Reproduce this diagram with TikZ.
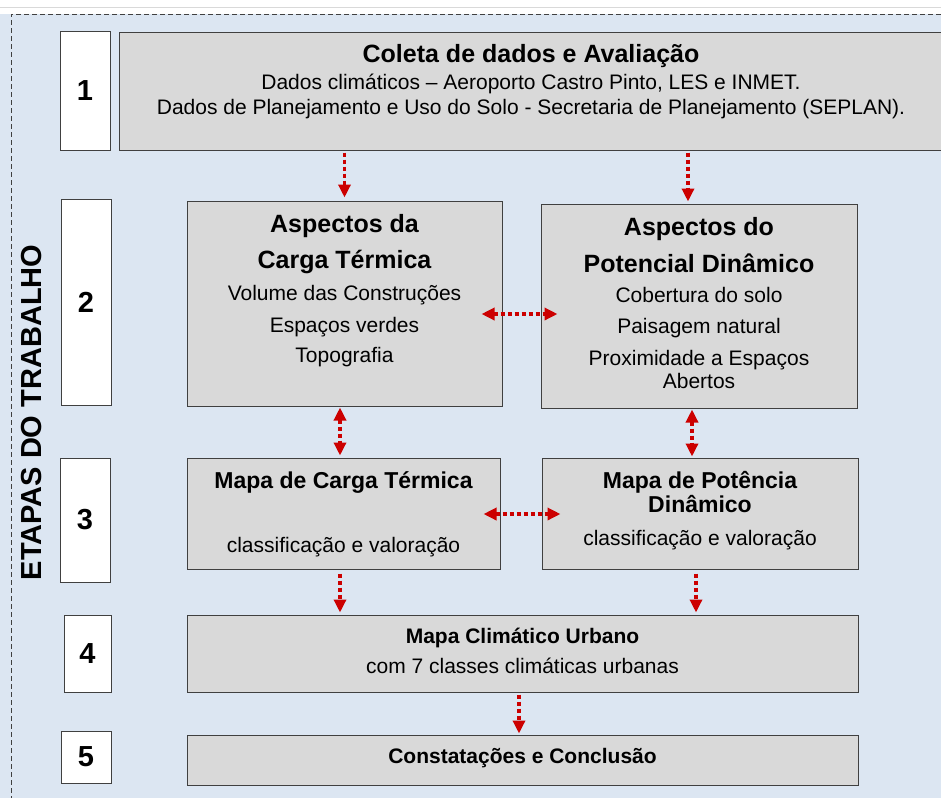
\documentclass[tikz,border=0pt]{standalone}
\usepackage{fontspec}
\setmainfont{Liberation Sans}
\usetikzlibrary{calc,positioning,arrows.meta}
\definecolor{fundo}{RGB}{220,230,242}
\definecolor{cinza}{RGB}{217,217,217}
\definecolor{borda}{RGB}{64,64,64}
\definecolor{vermelho}{RGB}{204,0,0}
\tikzset{
  caixa/.style={draw=borda, fill=cinza, line width=1pt, inner sep=0pt},
  etapa/.style={draw=borda, fill=white, line width=1pt, inner sep=0pt, font=\bfseries\fontsize{29}{34}\selectfont},
  titulo/.style={anchor=base, inner sep=0pt, font=\bfseries\fontsize{25}{30}\selectfont},
  subtitulo/.style={anchor=base, inner sep=0pt, font=\bfseries\fontsize{23}{27}\selectfont},
  rotulo/.style={anchor=base, inner sep=0pt, font=\bfseries\fontsize{21}{25}\selectfont},
  texto/.style={anchor=base, inner sep=0pt, font=\fontsize{21}{25}\selectfont},
  seta/.style={vermelho, line width=3.5pt, dash pattern=on 4pt off 3pt, -{Triangle[length=13pt,width=12pt]}},
  setadupla/.style={seta, {Triangle[length=13pt,width=12pt]}-{Triangle[length=13pt,width=12pt]}},
}
\begin{document}
\begin{tikzpicture}[x=1pt, y=-1pt]
      \useasboundingbox (0,0) rectangle (941,798);
      \fill[white] (0,0) rectangle (941,798);
      \draw[black!15] (0,7) -- (941,7);
      \fill[fundo] (0,14) rectangle (941,798);
      \draw[borda, line width=0.8pt, dash pattern=on 5pt off 3pt] (941,14) -- (11,14) -- (11,798);
      \node[rotate=90, inner sep=0pt, font=\bfseries\fontsize{29}{34}\selectfont] (T) at (32,412.5) {ETAPAS DO TRABALHO};
      % etapas
      \node[etapa, minimum width=50pt, minimum height=119pt] (n1) at (85,90.5) {1};
      \node[etapa, minimum width=50pt, minimum height=206pt] (n2) at (86,302) {2};
      \node[etapa, minimum width=50pt, minimum height=124pt] (n3) at (85,520) {3};
      \node[etapa, minimum width=47pt, minimum height=77pt] (n4) at (87.5,653.5) {4};
      \node[etapa, minimum width=50pt, minimum height=52pt] (n5) at (86,757) {5};
      % caixas
      \node[caixa, minimum width=826pt, minimum height=118pt] (C) at (532,91) {};
      \node[caixa, minimum width=315pt, minimum height=205pt] (A) at (344.5,303.5) {};
      \node[caixa, minimum width=316pt, minimum height=204pt] (B) at (699,306) {};
      \node[caixa, minimum width=313pt, minimum height=111pt] (D) at (343.5,513.5) {};
      \node[caixa, minimum width=316pt, minimum height=111pt] (E) at (700,513.5) {};
      \node[caixa, minimum width=671pt, minimum height=77pt] (F) at (522.5,653.5) {};
      \node[caixa, minimum width=671pt, minimum height=50pt] (G) at (522.5,760) {};
      % textos
      \node[titulo] (C1) at (531,62) {Coleta de dados e Avaliação};
      \node[texto] (C2) at (531,89) {Dados climáticos – Aeroporto Castro Pinto, LES e INMET.};
      \node[texto] (C3) at (531,114) {Dados de Planejamento e Uso do Solo - Secretaria de Planejamento (SEPLAN).};
      \node[titulo] (A1) at (344.5,232) {Aspectos da};
      \node[titulo] (A2) at (344.5,268) {Carga Térmica};
      \node[texto] (A3) at (344.5,300) {Volume das Construções};
      \node[texto] (A4) at (344.5,332) {Espaços verdes};
      \node[texto] (A5) at (344.5,362) {Topografia};
      \node[titulo] (B1) at (699,235) {Aspectos do};
      \node[titulo] (B2) at (699,272) {Potencial Dinâmico};
      \node[texto] (B3) at (699,302) {Cobertura do solo};
      \node[texto] (B4) at (699,333) {Paisagem natural};
      \node[texto] (B5) at (699,365) {Proximidade a Espaços};
      \node[texto] (B6) at (699,388) {Abertos};
      \node[subtitulo] (D1) at (343.5,488) {Mapa de Carga Térmica};
      \node[texto] (D2) at (343.5,552) {classificação e valoração};
      \node[subtitulo] (E1) at (700,488) {Mapa de Potência};
      \node[subtitulo] (E2) at (700,512) {Dinâmico};
      \node[texto] (E3) at (700,545) {classificação e valoração};
      \node[rotulo] (F1) at (522.5,643) {Mapa Climático Urbano};
      \node[texto] (F2) at (522.5,673) {com 7 classes climáticas urbanas};
      \node[rotulo] (G1) at (522.5,763) {Constatações e Conclusão};
      % setas
      \draw[seta] ($(C.south -| A.north)+(0,2)$) -- ($(A.north)+(0,-3)$);
      \draw[seta] ($(C.south -| B.north)+(-11,2)$) -- ($(B.north)+(-11,-2)$);
      \draw[setadupla] ($(A.east)+(-21,10.5)$) -- ($(B.west)+(17,8)$);
      \draw[setadupla] ($(A.south)+(-4.5,1)$) -- ($(D.north)+(-3.5,-2)$);
      \draw[setadupla] ($(B.south)+(-7,1)$) -- ($(E.north)+(-8,-1)$);
      \draw[setadupla] ($(D.east)+(-17,0.5)$) -- ($(E.west)+(19,0.5)$);
      \draw[seta] ($(D.south)+(-3.5,4)$) -- ($(D.south |- F.north)+(-3.5,-2)$);
      \draw[seta] ($(E.south)+(-4,4)$) -- ($(E.south |- F.north)+(-4,-2)$);
      \draw[seta] ($(F.south)+(-3.5,2)$) -- ($(G.north)+(-3.5,-1)$);
\end{tikzpicture}
\end{document}
